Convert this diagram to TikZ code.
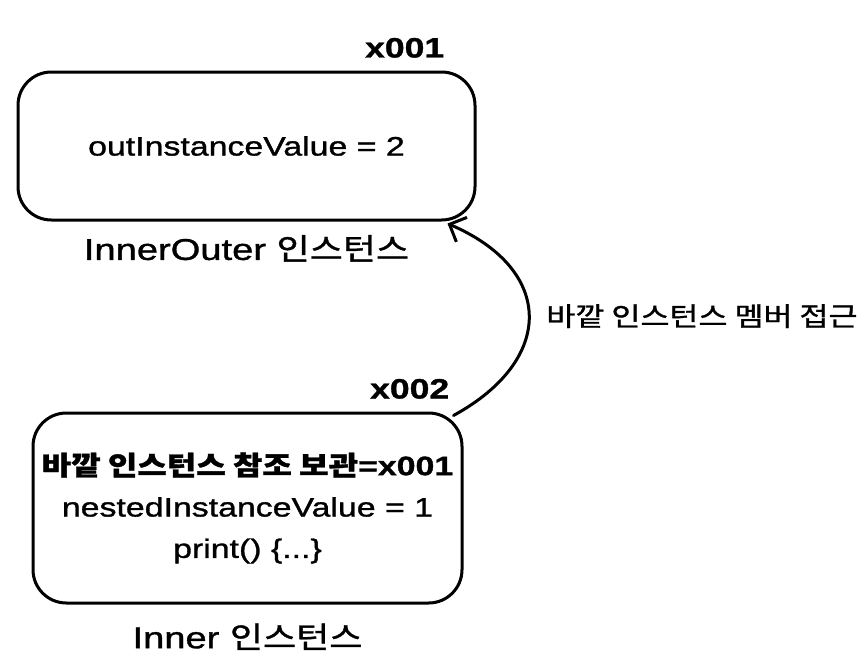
\documentclass[tikz,border=0pt]{standalone}
\usepackage{fontspec}
\setmainfont{Liberation Sans}[FakeStretch=1.27,FakeBold=1.2]
\newfontfamily\krfont{Noto Sans CJK KR}[FakeStretch=1.2,FakeBold=1.2]
\usetikzlibrary{calc,positioning,arrows.meta}

\begin{document}
\begin{tikzpicture}[x=0.75pt,y=-0.75pt,
		box/.style={draw,line width=2.25pt,rounded corners=25pt,align=center,font=\fontsize{20}{31}\selectfont},
		addr/.style={inner sep=0,font=\fontsize{21}{25}\selectfont\bfseries},
		namecap/.style={inner sep=0,font=\fontsize{22.5}{27}\selectfont}]
	\useasboundingbox (0,0) rectangle (865,671);

	\node[box,minimum width=342.75pt,minimum height=111pt] (outer) at (246.5,146) {outInstanceValue = 2};
	\node[addr,anchor=base east] (addr1) at ([shift={(-32,-13)}]outer.north east) {x001};
	\node[namecap,below=10pt of outer] (outername) {InnerOuter {\krfont 인스턴스}};

	\node[box,minimum width=321.75pt,minimum height=142.5pt] (inner) at (247.5,508) {{\krfont\bfseries 바깥 인스턴스 참조 보관}\textbf{=x001}\\nestedInstanceValue = 1\\print() \{...\}};
	\node[addr,anchor=base east] (addr2) at ([shift={(-14,-13)}]inner.north east) {x002};
	\node[namecap,below=14pt of inner] (innername) {Inner {\krfont 인스턴스}};

	\draw[line width=2.25pt,line cap=round,-{Straight Barb[length=10pt,width=20pt]}] ([shift={(-10,4)}]inner.north east) .. controls (555,360) and (555,270) .. node[pos=.5,right=12pt,inner sep=0,font=\fontsize{19.7}{24}\selectfont] (access) {\krfont 바깥 인스턴스 멤버 접근} ([shift={(-29,2)}]outer.south east);
\end{tikzpicture}
\end{document}
